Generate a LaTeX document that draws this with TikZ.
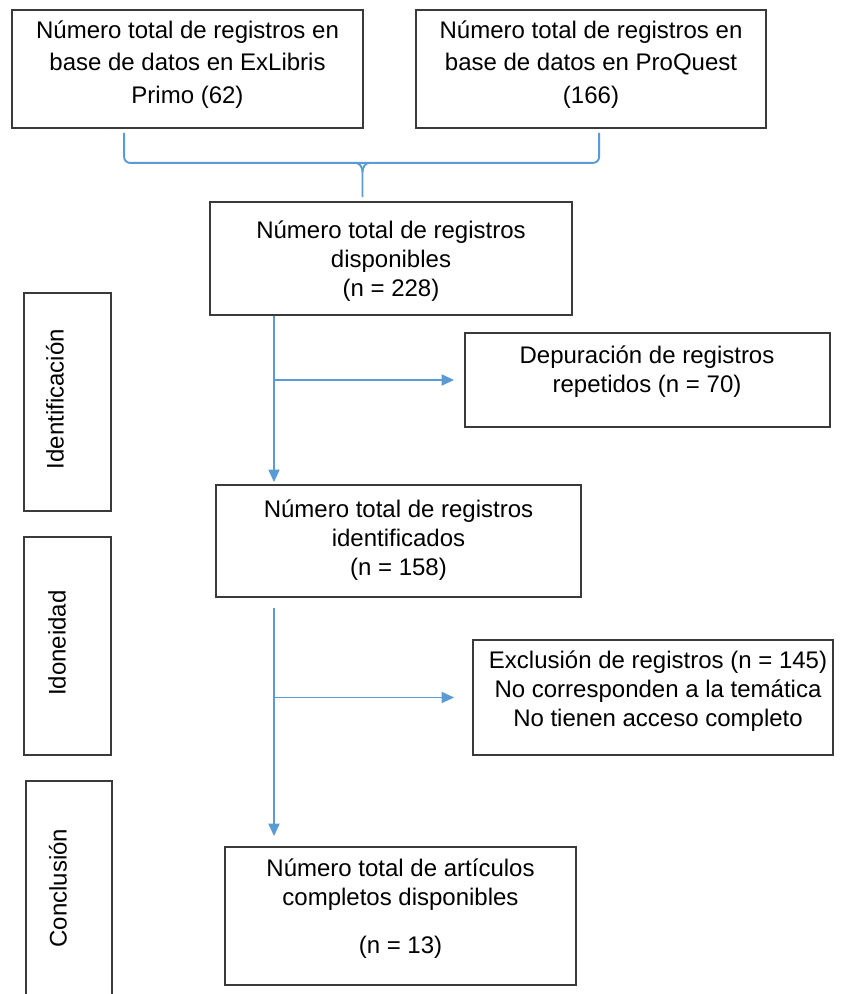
\documentclass[tikz,border=0pt]{standalone}
\usepackage{fontspec}
\setmainfont{Liberation Sans}
\usetikzlibrary{arrows.meta,calc}
\definecolor{conn}{HTML}{5B9BD5}
\definecolor{edge}{HTML}{3A3A3A}
\tikzset{
  x=1pt,y=-1pt,
  box/.style={draw=edge,line width=1.8pt,rectangle,inner sep=0pt,fill=white},
  txt/.style={align=center,inner sep=0pt,font=\fontsize{24}{29}\selectfont},
  toptxt/.style={align=center,inner sep=0pt,font=\fontsize{24}{32.5}\selectfont},
  side/.style={inner sep=0pt,rotate=90,font=\fontsize{24}{29}\selectfont},
  conline/.style={draw=conn,line width=1.9pt},
  arr/.style={conline,-{Triangle[length=12.5pt,width=11pt]}},
}
\begin{document}
\begin{tikzpicture}
\useasboundingbox[fill=white] (0,0) rectangle (842,994);
% boxes
\node[box,minimum width=351,minimum height=118] (A) at (187.5,69) {};
\node[toptxt] (At) at (187.5,64.5) {Número total de registros en\\base de datos en ExLibris\\Primo (62)};
\node[box,minimum width=350,minimum height=118] (B) at (591,69) {};
\node[toptxt] (Bt) at (591,64.5) {Número total de registros en\\base de datos en ProQuest\\(166)};
\node[box,minimum width=362,minimum height=113] (C) at (391,258.5) {};
\node[txt] (Ct) at (391,261) {Número total de registros\\disponibles\\(n = 228)};
\node[box,minimum width=365,minimum height=94] (D) at (647.5,380) {};
\node[txt] (Dt) at (647,372) {Depuración de registros\\repetidos (n = 70)};
\node[box,minimum width=365,minimum height=112] (E) at (398.5,541) {};
\node[txt] (Et) at (398.5,540.5) {Número total de registros\\identificados\\(n = 158)};
\node[box,minimum width=360,minimum height=115] (F) at (653,697.5) {};
\node[txt] (Ft) at (658,691) {Exclusión de registros (n = 145)\\No corresponden a la temática\\No tienen acceso completo};
\node[box,minimum width=351,minimum height=138] (G) at (400.5,916) {};
\node[txt] (Gt) at (400.5,909) {Número total de artículos\\completos disponibles\\[19pt](n = 13)};
% side labels
\node[box,minimum width=87,minimum height=218] (L1) at (67.5,402) {};
\node[side] (L1t) at (55,399) {Identificación};
\node[box,minimum width=87,minimum height=218] (L2) at (67.5,646) {};
\node[side] (L2t) at (57,643) {Idoneidad};
\node[box,minimum width=86,minimum height=240] (L3) at (69,901) {};
\node[side] (L3t) at (58,888) {Conclusión};
% brace
\coordinate (b1) at ($(A.south west)+(113,4)$);
\coordinate (b2) at ($(B.south west)+(184,4)$);
\coordinate (bm) at ($(A.south east)!0.5!(B.south west)+(-27,34)$);
\draw[conline,rounded corners=6] (b1) |- (bm) -| (b2);
\draw[conline] ($(bm)+(-7,0)$) to[out=0,in=90] ($(bm)+(0,9)$) -- ($(C.north -| bm)+(0,-4)$);
\draw[conline] ($(bm)+(7,0)$) to[out=180,in=90] ($(bm)+(0,9)$);
% main flow
\coordinate (ax) at (274,0);
\draw[arr,shorten >=2pt] (C.south -| ax) -- (E.north -| ax);
\draw[arr,shorten >=10pt] (ax |- D.west) -- (D.west);
\draw[arr,shorten <=10pt,shorten >=10pt] (E.south -| ax) -- (G.north -| ax);
\draw[arr,shorten >=18pt] (ax |- F.west) -- (F.west);
\end{tikzpicture}
\end{document}
